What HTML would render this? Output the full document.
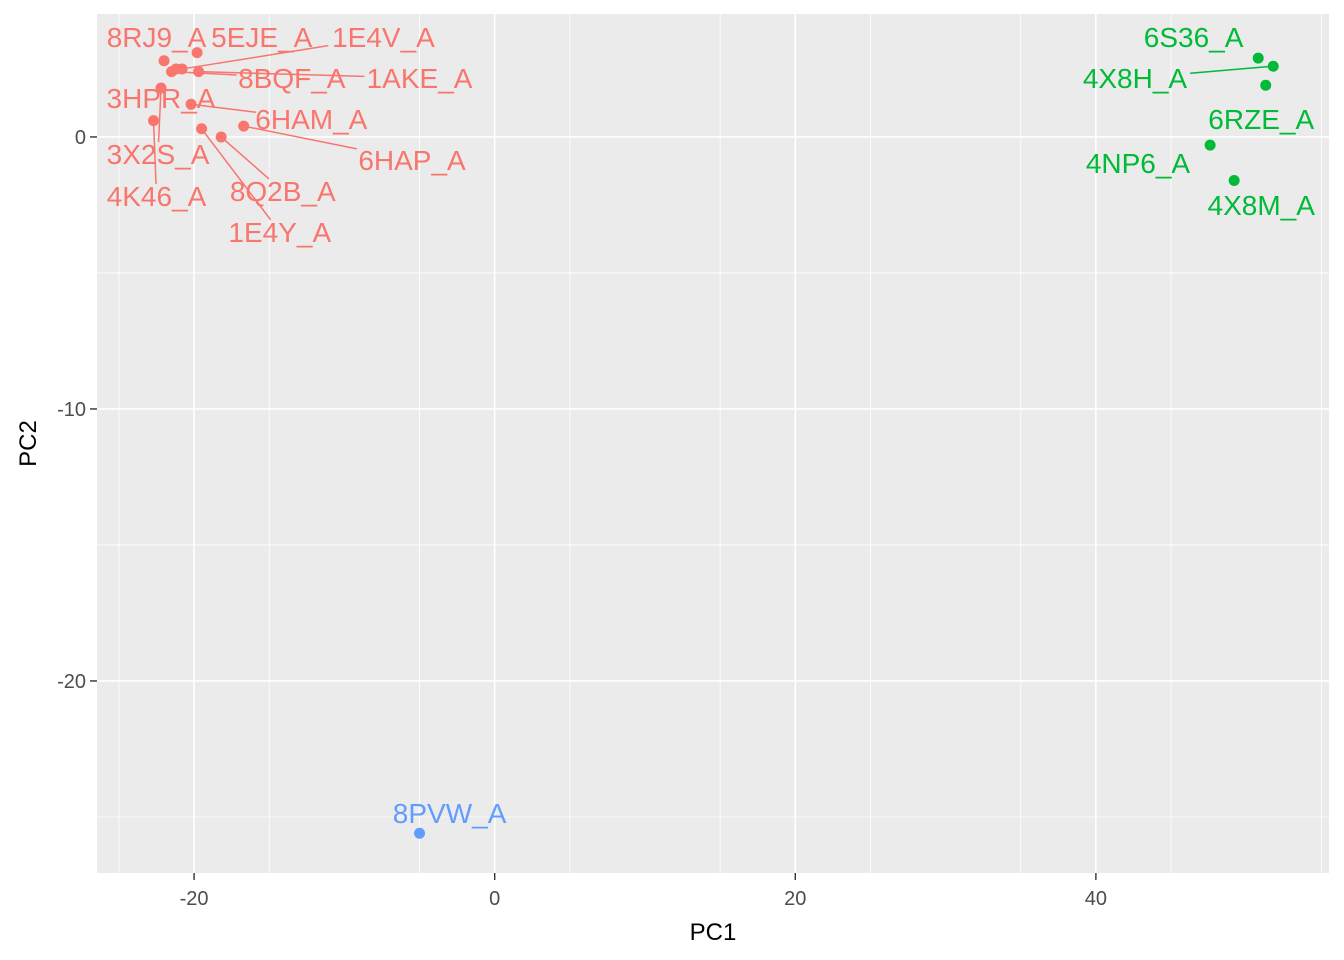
<!DOCTYPE html>
<html><head><meta charset="utf-8"><style>
body{margin:0;background:#fff}
svg{display:block;font-family:"Liberation Sans",Arial,sans-serif}
</style></head><body>
<svg id="chart" width="1344" height="960"></svg>
<script>
const names=["8RJ9_A","5EJE_A","1E4V_A","8BQF_A","1AKE_A","3HPR_A","6HAM_A","6HAP_A","3X2S_A","4K46_A","8Q2B_A","1E4Y_A","6S36_A","4X8H_A","6RZE_A","4NP6_A","4X8M_A","8PVW_A"];
const groups=[0,0,0,0,0,0,0,0,0,0,0,0,1,1,1,1,1,2];
const pc1=[-22.0,-19.8,-20.8,-21.5,-19.7,-21.2,-20.2,-16.7,-22.2,-22.7,-18.2,-19.5,50.8,51.8,51.3,47.6,49.2,-5.0];
const pc2=[2.8,3.1,2.5,2.4,2.4,2.5,1.2,0.4,1.8,0.6,0.0,0.3,2.9,2.6,1.9,-0.3,-1.6,-25.6];
const labX=[-22.5,-15.5,-7.4,-13.5,-5.0,-22.2,-12.2,-5.5,-22.4,-22.5,-14.1,-14.3,46.5,42.6,51.0,42.8,51.0,-3.0];
const labY=[3.68,3.68,3.68,2.17,2.17,1.43,0.66,-0.85,-0.63,-2.17,-1.99,-3.49,3.68,2.17,0.66,-0.96,-2.5,-24.85];
const xTicks=[-20,0,20,40];
const yTicks=[0,-10,-20];
const colors=["#F8766D","#00BA38","#619CFF"];
const L=97,R=1329,T=14,B=873;
const xMin=-26.46,xMax=55.51,yMin=-27.06,yMax=4.52;
const sx=v=>L+(v-xMin)/(xMax-xMin)*(R-L);
const sy=v=>B-(v-yMin)/(yMax-yMin)*(B-T);
const svg=document.getElementById('chart');
const NS="http://www.w3.org/2000/svg";
function mk(t,a,p){const e=document.createElementNS(NS,t);for(const k in a)e.setAttribute(k,a[k]);(p||svg).appendChild(e);return e;}
const bg=mk('rect',{x:L,y:T,width:R-L,height:B-T,fill:'#EBEBEB'});


for(let v=-25;v<xMax;v+=10){const l=mk('line',{x1:sx(v),x2:sx(v),y1:T,y2:B,stroke:'#fff','stroke-width':0.8});}
for(let v=-25;v<yMax;v+=10){const l=mk('line',{x1:L,x2:R,y1:sy(v),y2:sy(v),stroke:'#fff','stroke-width':0.8});}
xTicks.forEach(v=>{const l=mk('line',{x1:sx(v),x2:sx(v),y1:T,y2:B,stroke:'#fff','stroke-width':1.6});
 const t=mk('line',{x1:sx(v),x2:sx(v),y1:B,y2:B+7,stroke:'#333','stroke-width':1.4});
 const tx=mk('text',{x:sx(v),y:B+32,'text-anchor':'middle','font-size':20,fill:'#4D4D4D'});tx.textContent=v;});
yTicks.forEach(v=>{const l=mk('line',{x1:L,x2:R,y1:sy(v),y2:sy(v),stroke:'#fff','stroke-width':1.6});
 const t=mk('line',{x1:L-7,x2:L,y1:sy(v),y2:sy(v),stroke:'#333','stroke-width':1.4});
 const tx=mk('text',{x:L-11,y:sy(v)+7,'text-anchor':'end','font-size':20,fill:'#4D4D4D'});tx.textContent=v;});
const xt=mk('text',{x:(L+R)/2,y:940,'text-anchor':'middle','font-size':24,fill:'#000'});xt.textContent='PC1';


const yt=mk('text',{x:0,y:0,'text-anchor':'middle','font-size':24,fill:'#000',transform:`translate(36,${(T+B)/2}) rotate(-90)`});yt.textContent='PC2';


const CW=17.4,H=24;
names.forEach((n,i)=>{
 const px=sx(pc1[i]),py=sy(pc2[i]),lx=sx(labX[i]),ly=sy(labY[i]);
 const w=n.length*CW/2+3,h=H/2;
 const dx=px-lx,dy=py-ly;
 if(Math.abs(dx)>w||Math.abs(dy)>h){
  const s=Math.min(Math.abs(dx)>0?w/Math.abs(dx):1e9,Math.abs(dy)>0?h/Math.abs(dy):1e9);
  const ex=lx+dx*s,ey=ly+dy*s;
  if(Math.hypot(px-ex,py-ey)>33){
   const seg=mk('line',{x1:px,y1:py,x2:ex,y2:ey,stroke:colors[groups[i]],'stroke-width':1.5});
   
   
  }
 }
 const c=mk('circle',{cx:px,cy:py,r:5.5,fill:colors[groups[i]]});
 
 
});
names.forEach((n,i)=>{
 const t=mk('text',{x:sx(labX[i]),y:sy(labY[i])+10,'text-anchor':'middle','font-size':28,fill:colors[groups[i]]});
 t.textContent=n;
 
 
});
</script>
</body></html>
